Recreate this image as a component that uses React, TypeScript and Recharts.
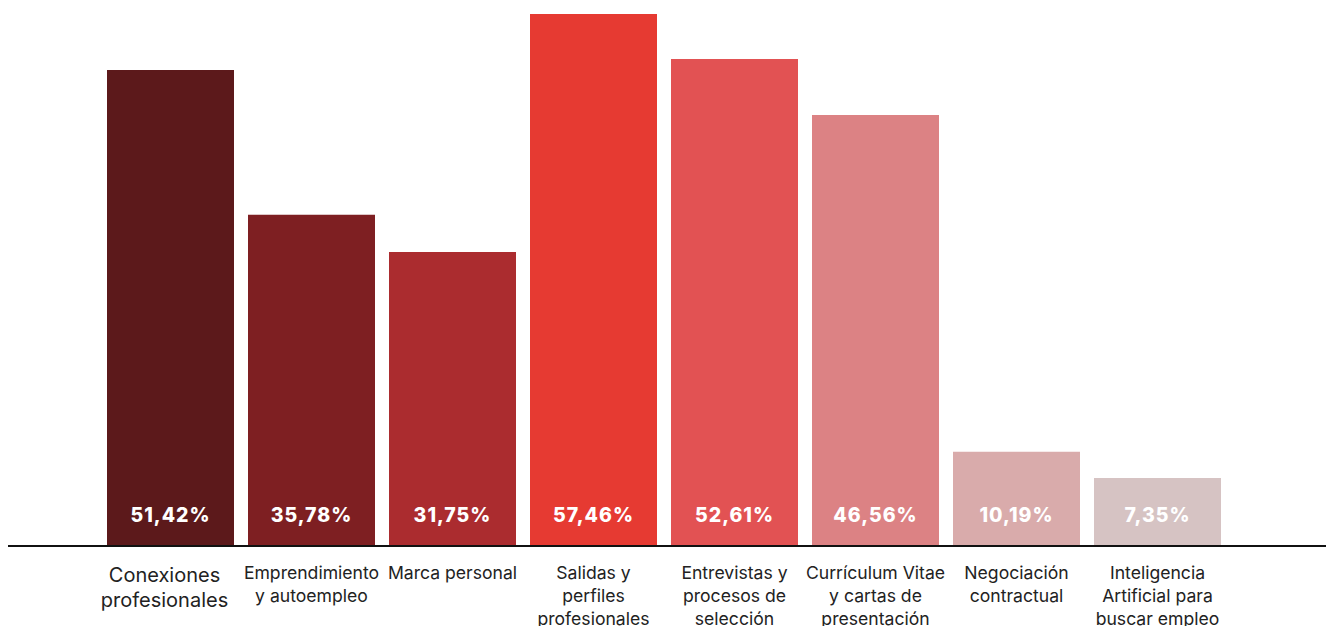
import { BarChart, Bar, XAxis, YAxis, Cell, LabelList } from "recharts";

const categories = [
  "Conexiones\nprofesionales",
  "Emprendimiento\ny autoempleo",
  "Marca personal",
  "Salidas y\nperfiles\nprofesionales",
  "Entrevistas y\nprocesos de\nselección",
  "Currículum Vitae\ny cartas de\npresentación",
  "Negociación\ncontractual",
  "Inteligencia\nArtificial para\nbuscar empleo",
];

const shares = [51.42, 35.78, 31.75, 57.46, 52.61, 46.56, 10.19, 7.35];

const barColors = [
  "#5C191B",
  "#7E1F22",
  "#AB2C2F",
  "#E63A32",
  "#E25253",
  "#DC8284",
  "#D9ABAB",
  "#D6C3C3",
];

const data = categories.map((name, i) => ({ name, share: shares[i] }));

const FONT = "Inter, 'Liberation Sans', Arial, sans-serif";

const fmt = (v: number) => v.toFixed(2).replace(".", ",") + "%";

const CategoryTick = (props: any) => {
  const { x, y, payload, index } = props;
  const lines = String(payload.value).split("\n");
  // first label is set larger in the original
  const big = index === 0;
  const size = big ? 20 : 17.6;
  const lh = big ? 25 : 23;
  const first = big ? 36 : 33;
  const cx = big ? x - 6 : x;
  return (
    <text x={cx} y={y} textAnchor="middle" fill="#222" fontFamily={FONT} fontSize={size}>
      {lines.map((l, i) => (
        <tspan key={i} x={cx} dy={i === 0 ? first : lh}>
          {l}
        </tspan>
      ))}
    </text>
  );
};

const ValueLabel = (props: any) => {
  const { x, y, width, height, value } = props;
  return (
    <text
      x={x + width / 2}
      y={y + height - 24}
      textAnchor="middle"
      fill="#fff"
      fontFamily={FONT}
      fontWeight={800}
      fontSize={19.5}
      letterSpacing={1}
    >
      {fmt(value)}
    </text>
  );
};

export default function App() {
  return (
    <div style={{ width: 1326, height: 626, paddingTop: 8, paddingLeft: 8, boxSizing: "border-box", overflow: "hidden" }}>
      <style>{"body{margin:0}"}</style>
      <BarChart
        width={1318}
        height={618}
        data={data}
        margin={{ top: 6, right: 0, left: 0, bottom: 0 }}
        barSize={127}
      >
        <YAxis hide domain={[0, 57.46]} />
        <XAxis
          dataKey="name"
          interval={0}
          height={80}
          padding={{ left: 92, right: 98 }}
          tickLine={false}
          tickSize={0}
          tickMargin={0}
          axisLine={{ stroke: "#111", strokeWidth: 2 }}
          tick={<CategoryTick />}
        />
        <Bar dataKey="share" isAnimationActive={false}>
          {data.map((_, i) => (
            <Cell key={i} fill={barColors[i]} />
          ))}
          <LabelList dataKey="share" content={<ValueLabel />} />
        </Bar>
      </BarChart>
    </div>
  );
}
